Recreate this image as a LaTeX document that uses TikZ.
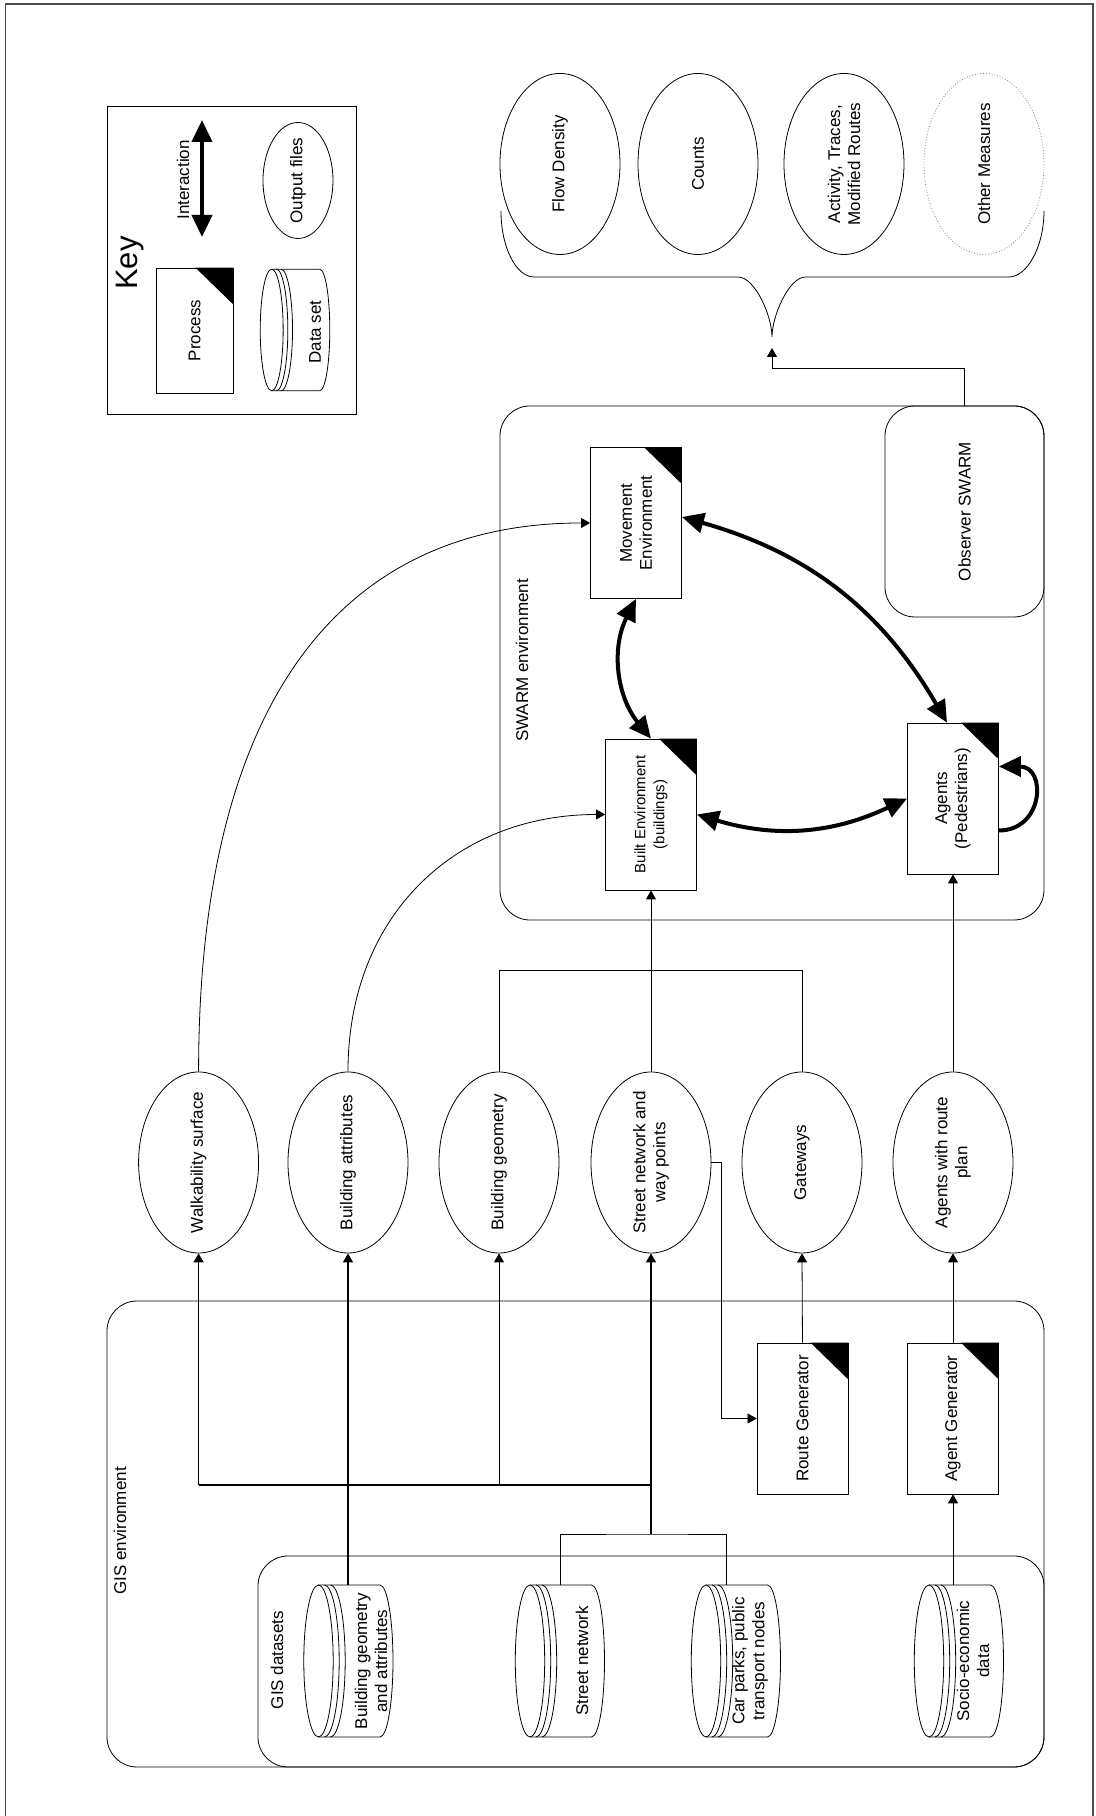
\documentclass[tikz,border=0pt]{standalone}
\usepackage{fontspec}
\setmainfont{Liberation Sans}
\usetikzlibrary{shapes.geometric,arrows.meta}

% data set drum: name, centre of its top ring
\newcommand{\dataset}[3][]{%
  \begin{scope}[shift={#3},#1]
    \draw[line width=0.8bp] (-76,0) -- (-76,-61.5) arc[start angle=180,end angle=360,x radius=76,y radius=13] -- (76,0);
    \draw[line width=0.8bp] (0,0) ellipse [x radius=76,y radius=14.7];
    \foreach \off in {6,12}
      \draw[line width=0.8bp] (-76,-\off) arc[start angle=180,end angle=360,x radius=76,y radius=14.7];
    \node[minimum width=152bp,minimum height=89bp,inner sep=0pt] (#2) at (0,-30.5) {};
  \end{scope}}

\begin{document}
\begin{tikzpicture}[x=1bp,y=1bp,rotate=90,transform shape,
    every node/.style={font=\fontsize{17bp}{20bp}\selectfont,align=center},
    proc/.style={draw,line width=0.8bp,minimum width=151bp,minimum height=91bp,inner sep=0pt},
    outfile/.style={draw,ellipse,line width=0.8bp,minimum width=181bp,minimum height=120bp,inner xsep=-20bp,inner ysep=0pt},
    envbox/.style={draw,line width=0.8bp,rounded corners=30bp},
    flow/.style={line width=0.8bp,-{Triangle[length=9bp,width=10bp]}},
    heavy/.style={line width=1.4bp},
    interact/.style={line width=4bp,{Triangle[length=22bp,width=20bp]}-{Triangle[length=22bp,width=20bp]}}]

\useasboundingbox (0,0) rectangle (1816,1095);
\draw[line width=1.5bp,black!70] (0,2) -- (1812,2) -- (1812,1089.5) -- (0,1089.5);

% key
\draw[line width=0.8bp] (1402,739) rectangle (1710,988);
\node[font=\fontsize{31bp}{36bp}\selectfont] (keytitle) at (1553,965) {Key};
\node[proc,minimum width=125bp,minimum height=77bp] (keyproc) at (1485.5,900.5) {Process};
\coordinate (ia1) at (1579,893);
\coordinate (ia2) at (1696,893);
\draw[interact] (ia1) -- (ia2);
\node (interlbl) at (1636,912) {Interaction};
\node[outfile,minimum width=116bp,minimum height=70bp] (keyout) at (1635.5,797) {Output files};
\dataset[xscale=0.8,yscale=0.78]{dskey}{(1486,823.3)}
\node (dskeytxt) at (1484,780) {Data set};

% GIS side
\draw[envbox] (49,51) rectangle (515,988);
\draw[envbox] (49,51) rectangle (260,837);
\node (gislbl) at (285,975) {GIS environment};
\node (dslbl) at (156,818) {GIS datasets};

\dataset{bga}{(155,776.5)}
\dataset{strnet}{(155,565)}
\dataset{carpk}{(155,389)}
\dataset{socio}{(155,166)}
\node (bgatxt) at (155,724) {Building geometry\\and attributes};
\node (strnettxt) at (155,513) {Street network};
\node (carpktxt) at (155,345) {Car parks, public\\transport nodes};
\node (sociotxt) at (155,122) {Socio-economic\\data};

\node[proc] (route) at (397.5,292.5) {Route Generator};
\node[proc] (agen) at (397.5,142) {Agent Generator};

% intermediate files
\node[outfile] (walk) at (653.5,896.4) {Walkability surface};
\node[outfile] (battr) at (653.5,747) {Building attributes};
\node[outfile] (bgeom) at (653.5,596) {Building geometry};
\node[outfile] (street) at (653.5,444) {Street network and\\way points};
\node[outfile] (gate) at (653.5,293) {Gateways};
\node[outfile] (awr) at (653.5,142) {Agents with route\\plan};

% SWARM side
\draw[envbox] (896,51) rectangle (1410,595);
\node (swarmlbl) at (1155.5,573) {SWARM environment};
\node[proc] (mov) at (1293,459) {Movement\\Environment};
\node[proc,font=\fontsize{15bp}{19bp}\selectfont] (built) at (1001.5,444) {Built Environment\\(buildings)};
\node[proc] (agents) at (1017.5,142) {Agents\\(Pedestrians)};
\node[envbox,minimum width=211bp,minimum height=159bp] (obs) at (1304.5,130.5) {Observer SWARM};
\foreach \n in {keyproc,route,agen,mov,built,agents}
  \fill (\n.south east) -- ++(-37,0) -- ++(37,38) -- cycle;

% outputs
\node[outfile] (flowden) at (1652,535) {Flow Density};
\node[outfile] (counts) at (1652,397) {Counts};
\node[outfile] (activity) at (1652,251) {Activity, Traces,\\Modified Routes};
\node[outfile,draw=gray,dotted] (othermeas) at (1652,111) {Other Measures};
\draw[line width=0.8bp] (1605,594) .. controls (1569,594) and (1539,579) .. (1539,561) -- (1539,357)
  .. controls (1539,340) and (1500,323) .. (1479,323) .. controls (1500,323) and (1539,306) .. (1539,289.5)
  -- (1539,86) .. controls (1539,68) and (1569,51) .. (1605,51);
\coordinate (bracetip) at (1468,323);
\draw[flow] (obs.east) -- ++(37,0) |- (bracetip);

% GIS links
\coordinate (gisbus) at (331,444);
\coordinate (fork) at (282,444);
\draw[flow,heavy] (bga.east |- battr.west) -- (battr.west);
\draw[heavy] (gisbus |- walk.west) -- (gisbus);
\draw[flow,heavy] (gisbus |- walk.west) -- (walk.west);
\draw[flow] (gisbus |- bgeom.west) -- (bgeom.west);
\draw[line width=0.8bp] (strnet.east) -| (fork) |- ([yshift=10bp]carpk.east);
\draw[flow,heavy] (fork) -- (street.west);
\draw[flow] (street.south) -- ++(0,-10) -| (route.north);
\draw[flow] (route.east) -- (gate.west);
\draw[flow] (agen.east) -- (awr.west);
\draw[flow] (socio.east |- agen.west) -- (agen.west);

% into SWARM
\draw[flow] (walk.east) .. controls (1120,896.4) and (1293,750) .. (mov.north);
\draw[flow] (battr.east) .. controls (900,747) and (1001.5,640) .. (built.north);
\draw[line width=0.8bp] (bgeom.east) -- ++(101,0) |- (gate.east);
\draw[flow] (street.east) -- (built.west);
\draw[flow] (awr.east) -- (agents.west);

% interactions
\draw[interact] (built.east) to[bend left=33] (mov.west);
\draw[interact] ([xshift=6bp]mov.south) to[bend left=22] ([yshift=6bp]agents.east);
\draw[interact] (built.south) to[bend right=21] (agents.north);
\draw[line width=4bp,-{Triangle[length=22bp,width=20bp]}] ([xshift=-32bp]agents.south)
  .. controls +(0,-45) and +(0,-48) .. ([xshift=32bp]agents.south);
\end{tikzpicture}
\end{document}
